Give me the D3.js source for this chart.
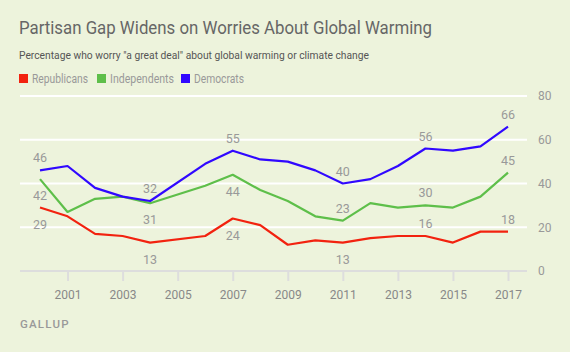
<!DOCTYPE html>
<html><head><meta charset="utf-8">
<script src="https://cdn.jsdelivr.net/npm/d3@7"></script>
<style>
html,body{margin:0;padding:0;background:#edf3dc;}
svg{display:block;font-family:"Roboto","Inter",sans-serif;}
</style></head><body>
<svg id="chart" width="570" height="352"></svg>
<script>
const years = [2000,2001,2002,2003,2004,2006,2007,2008,2009,2010,2011,2012,2013,2014,2015,2016,2017];
const republicans = [29,25,17,16,13,16,24,21,12,14,13,15,16,16,13,18,18];
const independents = [42,27,33,34,31,39,44,37,32,25,23,31,29,30,29,34,45];
const democrats = [46,48,38,34,32,49,55,51,50,46,40,42,48,56,55,57,66];
const xTicks = [2001,2003,2005,2007,2009,2011,2013,2015,2017];
const yTicks = [0,20,40,60,80];
const labelYears = [2000,2004,2007,2011,2014,2017];
// label placement: 1 = above, -1 = below
const repPlace = [-1,-1,-1,-1,1,1];
const indPlace = [-1,-1,-1,1,1,1];
const demPlace = [1,1,1,1,1,1];

const series = [
  {name:"Republicans", values:republicans, color:"#f2220f", place:repPlace, w:56},
  {name:"Independents", values:independents, color:"#5ebf4a", place:indPlace, w:64},
  {name:"Democrats", values:democrats, color:"#3008ff", place:demPlace, w:50}
];

const svg = d3.select("#chart");
const x = d3.scaleLinear().domain([2000,2017]).range([40,508]);
const y = d3.scaleLinear().domain([0,80]).range([271,96]);
const left = 20, right = 527;

function fit(sel, w){ sel.attr("textLength",w).attr("lengthAdjust","spacingAndGlyphs"); return sel; }

fit(svg.append("text").attr("x",19).attr("y",34).attr("font-size",19).attr("fill","#666")
  .text("Partisan Gap Widens on Worries About Global Warming"), 413);
fit(svg.append("text").attr("x",19).attr("y",59).attr("font-size",11.5).attr("fill","#555")
  .text('Percentage who worry "a great deal" about global warming or climate change'), 350);

// legend
const legendX = [19,97,181];
series.forEach((s,i)=>{
  svg.append("rect").attr("x",legendX[i]).attr("y",74).attr("width",9).attr("height",9).attr("fill",s.color);
  fit(svg.append("text").attr("x",legendX[i]+13).attr("y",83).attr("font-size",12).attr("fill","#999").text(s.name), s.w);
});

// gridlines
svg.append("g").selectAll("line").data(yTicks.filter(d=>d>0)).join("line")
  .attr("x1",left).attr("x2",right).attr("y1",d=>y(d)).attr("y2",d=>y(d))
  .attr("stroke","#fff").attr("stroke-width",2);

// y axis (right)
const yAxis = svg.append("g").attr("transform",`translate(${right},0)`)
  .call(d3.axisRight(y).tickValues(yTicks).tickSize(0).tickPadding(11));
yAxis.select(".domain").remove();
yAxis.selectAll("text").attr("font-size",12).attr("fill","#999").attr("font-family","Roboto, sans-serif");

// x axis
const xAxis = svg.append("g").attr("transform",`translate(0,${y(0)})`)
  .call(d3.axisBottom(x).tickValues(xTicks).tickFormat(d3.format("d")).tickSize(10).tickSizeOuter(0).tickPadding(9));
xAxis.select(".domain").attr("d",`M${left},0H${right}`).attr("stroke","#ddd").attr("stroke-width",2);
xAxis.selectAll(".tick line").attr("stroke","#ddd").attr("stroke-width",2);
xAxis.selectAll("text").attr("font-size",12).attr("fill","#888").attr("font-family","Roboto, sans-serif");

// lines
const line = d3.line().x((d,i)=>x(years[i])).y(d=>y(d));
series.forEach(s=>{
  svg.append("path").datum(s.values).attr("d",line).attr("fill","none")
    .attr("stroke",s.color).attr("stroke-width",2.2).attr("stroke-linejoin","round");
});

// labels
series.forEach(s=>{
  labelYears.forEach((yr,k)=>{
    const i = years.indexOf(yr);
    const v = s.values[i];
    const above = s.place[k] === 1;
    svg.append("text").attr("x",x(yr)).attr("y",y(v) + (above ? -8 : 21))
      .attr("text-anchor","middle").attr("font-size",12.5).attr("fill","#999").text(v);
  });
});

svg.append("text").attr("x",20).attr("y",328).attr("font-size",11.5).attr("fill","#999")
  .attr("letter-spacing",1.2).attr("font-weight",500).text("GALLUP");
</script>
</body></html>
